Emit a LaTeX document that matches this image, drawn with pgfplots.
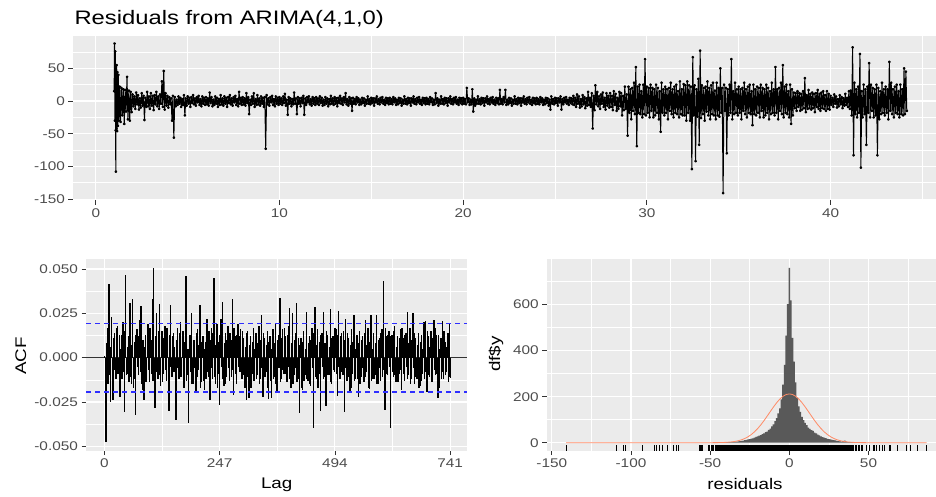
\documentclass[border=0pt]{standalone}
\usepackage{fontspec}
\setmainfont{Liberation Sans}[FakeStretch=1.22]
\usepackage{pgfplots}
\pgfplotsset{compat=1.18}
\definecolor{panel}{HTML}{EBEBEB}
\definecolor{tickgrey}{HTML}{333333}
\definecolor{labgrey}{HTML}{4D4D4D}
\definecolor{histfill}{HTML}{595959}
\definecolor{normline}{HTML}{FF8A65}
\definecolor{ciblue}{HTML}{2E2EFF}
\pgfplotsset{
  ggpanel/.style={
    scale only axis,
    axis background/.style={fill=panel},
    axis line style={draw=none},
    tick pos=left,
    tick align=outside,
    major tick length=4.5pt,
    minor tick length=0pt,
    tick style={tickgrey, line width=0.8pt},
    grid=both,
    major grid style={white, line width=1.1pt},
    minor grid style={white, line width=0.55pt},
    scaled ticks=false,
    tick label style={font=\fontsize{12.6}{14}\selectfont, text=labgrey},
  },
  acfbar/.style={ycomb, black, line width=1.4pt, mark=none},
  ciline/.style={color=ciblue, solid, line width=1.3pt, dash pattern=on 5pt off 4pt, mark=none},
}
\begin{document}
\begin{tikzpicture}
\useasboundingbox (0,0) rectangle (936pt,-497pt);
\node[anchor=base west, font=\fontsize{19.5}{22}\selectfont] at (71pt,-25pt) {Residuals from ARIMA(4,1,0)};

% residual series
\begin{axis}[ggpanel, at={(73pt,-36pt)}, anchor=north west,
  width=863pt, height=164.4pt,
  xmin=-1.24, xmax=45.74, ymin=-152, ymax=99.5,
  xtick={0,10,20,30,40}, xticklabels={0,10,20,30,40},
  minor xtick={5,15,25,35,45},
  ytick={-150,-100,-50,0,50}, yticklabels={-150,-100,-50,0,50},
  minor ytick={-125,-75,-25,25,75}]
\addplot[black, line width=1pt, line join=round, mark=*, mark size=0.9pt] coordinates {
(1.00,15) (1.02,88) (1.04,-30) (1.06,76) (1.08,-45) (1.09,-108) (1.10,48) (1.12,-42) (1.14,55) (1.16,-46) (1.18,44) (1.20,-38) (1.23,40) (1.26,-30) (1.30,22) (1.35,-32) (1.40,20) (1.45,-22) (1.50,18) (1.55,-35) (1.60,17) (1.65,-16) (1.70,37) (1.75,-28) (1.80,16) (1.85,-30) (1.90,14) (1.95,-17)
(2.00,10) (2.05,-8) (2.10,7) (2.15,-12) (2.20,13) (2.25,-5) (2.30,9) (2.35,-13) (2.40,4) (2.45,-10) (2.50,12) (2.55,-7) (2.60,8) (2.65,-29) (2.70,5) (2.75,-9) (2.80,14) (2.85,-8) (2.90,7) (2.95,-12)
(3.00,12) (3.05,-7) (3.10,8) (3.15,-14) (3.20,9) (3.25,-5) (3.30,14) (3.35,-8) (3.40,7) (3.45,-12) (3.50,10) (3.55,-4) (3.60,30) (3.65,-9) (3.70,46) (3.75,-13) (3.80,12) (3.85,-7) (3.90,8) (3.95,-10)
(4.00,6) (4.05,-5) (4.10,4) (4.15,-30) (4.20,8) (4.25,-56) (4.30,6) (4.35,-8) (4.40,2) (4.45,-6) (4.50,7) (4.55,-4) (4.60,5) (4.65,-9) (4.70,3) (4.75,-6) (4.80,9) (4.85,-22) (4.90,4) (4.95,-7)
(5.00,7) (5.05,-4) (5.10,5) (5.15,-9) (5.20,6) (5.25,-3) (5.30,9) (5.35,-5) (5.40,4) (5.45,-7) (5.50,6) (5.55,-2) (5.60,8) (5.65,-6) (5.70,3) (5.75,-8) (5.80,7) (5.85,-4) (5.90,5) (5.95,-6)
(6.00,6) (6.05,-5) (6.10,4) (6.15,-7) (6.20,13) (6.25,-3) (6.30,6) (6.35,-8) (6.40,2) (6.45,-6) (6.50,7) (6.55,-4) (6.60,5) (6.65,-9) (6.70,3) (6.75,-6) (6.80,9) (6.85,-5) (6.90,4) (6.95,-7)
(7.00,7) (7.05,-4) (7.10,5) (7.15,-9) (7.20,6) (7.25,-3) (7.30,9) (7.35,-5) (7.40,4) (7.45,-7) (7.50,6) (7.55,-2) (7.60,8) (7.65,-6) (7.70,3) (7.75,-8) (7.80,14) (7.85,-4) (7.90,5) (7.95,-6)
(8.00,6) (8.05,-5) (8.10,4) (8.15,-7) (8.20,12) (8.25,-3) (8.30,6) (8.35,-20) (8.40,2) (8.45,-6) (8.50,7) (8.55,-4) (8.60,12) (8.65,-9) (8.70,3) (8.75,-6) (8.80,9) (8.85,-5) (8.90,4) (8.95,-7)
(9.00,7) (9.05,-4) (9.10,5) (9.15,-9) (9.20,6) (9.25,-73) (9.30,9) (9.35,-5) (9.40,4) (9.45,-7) (9.50,6) (9.55,-2) (9.60,8) (9.65,-6) (9.70,3) (9.75,-8) (9.80,7) (9.85,-4) (9.90,5) (9.95,-6)
(10.00,6) (10.05,-4) (10.10,4) (10.15,-6) (10.20,7) (10.25,-3) (10.30,11) (10.35,-7) (10.40,2) (10.45,-21) (10.50,6) (10.55,-4) (10.60,4) (10.65,-8) (10.70,3) (10.75,-5) (10.80,13) (10.85,-4) (10.90,4) (10.95,-20)
(11.00,6) (11.05,-4) (11.10,4) (11.15,-8) (11.20,5) (11.25,-3) (11.30,8) (11.35,-21) (11.40,4) (11.45,-6) (11.50,6) (11.55,-2) (11.60,7) (11.65,-5) (11.70,3) (11.75,-7) (11.80,6) (11.85,-4) (11.90,4) (11.95,-6)
(12.00,6) (12.05,-4) (12.10,4) (12.15,-6) (12.20,7) (12.25,-3) (12.30,5) (12.35,-7) (12.40,2) (12.45,-6) (12.50,6) (12.55,-4) (12.60,4) (12.65,-8) (12.70,3) (12.75,-5) (12.80,8) (12.85,-4) (12.90,4) (12.95,-6)
(13.00,6) (13.05,-4) (13.10,4) (13.15,-8) (13.20,5) (13.25,-3) (13.30,8) (13.35,-4) (13.40,4) (13.45,-6) (13.50,6) (13.55,-2) (13.60,12) (13.65,-5) (13.70,3) (13.75,-7) (13.80,6) (13.85,-4) (13.90,4) (13.95,-15)
(14.00,5) (14.05,-4) (14.10,3) (14.15,-5) (14.20,6) (14.25,-2) (14.30,4) (14.35,-6) (14.40,2) (14.45,-5) (14.50,5) (14.55,-3) (14.60,4) (14.65,-7) (14.70,2) (14.75,-4) (14.80,7) (14.85,-4) (14.90,3) (14.95,-5)
(15.00,5) (15.05,-3) (15.10,4) (15.15,-7) (15.20,4) (15.25,-2) (15.30,7) (15.35,-4) (15.40,3) (15.45,-5) (15.50,5) (15.55,-2) (15.60,6) (15.65,-4) (15.70,2) (15.75,-6) (15.80,5) (15.85,-3) (15.90,4) (15.95,-5)
(16.00,5) (16.05,-4) (16.10,3) (16.15,-5) (16.20,6) (16.25,-2) (16.30,4) (16.35,-6) (16.40,2) (16.45,-5) (16.50,5) (16.55,-3) (16.60,4) (16.65,-7) (16.70,2) (16.75,-4) (16.80,7) (16.85,-4) (16.90,3) (16.95,-5)
(17.00,5) (17.05,-3) (17.10,4) (17.15,-7) (17.20,4) (17.25,-2) (17.30,7) (17.35,-4) (17.40,3) (17.45,-5) (17.50,5) (17.55,-2) (17.60,6) (17.65,-4) (17.70,2) (17.75,-6) (17.80,5) (17.85,-3) (17.90,4) (17.95,-5)
(18.00,5) (18.05,-4) (18.10,3) (18.15,-5) (18.20,6) (18.25,-2) (18.30,4) (18.35,-6) (18.40,2) (18.45,-5) (18.50,12) (18.55,-3) (18.60,4) (18.65,-7) (18.70,2) (18.75,-4) (18.80,7) (18.85,-4) (18.90,3) (18.95,-5)
(19.00,5) (19.05,-3) (19.10,4) (19.15,-7) (19.20,4) (19.25,-2) (19.30,7) (19.35,-4) (19.40,3) (19.45,-5) (19.50,5) (19.55,-2) (19.60,6) (19.65,-4) (19.70,2) (19.75,-6) (19.80,5) (19.85,-3) (19.90,4) (19.95,-5)
(20.00,5) (20.05,-4) (20.10,3) (20.15,-5) (20.20,20) (20.25,-2) (20.30,4) (20.35,-6) (20.40,2) (20.45,-5) (20.50,18) (20.55,-16) (20.60,4) (20.65,-7) (20.70,2) (20.75,-4) (20.80,7) (20.85,-4) (20.90,3) (20.95,-5)
(21.00,5) (21.05,-3) (21.10,4) (21.15,-7) (21.20,4) (21.25,-2) (21.30,7) (21.35,-4) (21.40,3) (21.45,-5) (21.50,5) (21.55,-2) (21.60,6) (21.65,-4) (21.70,2) (21.75,-6) (21.80,5) (21.85,-3) (21.90,4) (21.95,-5)
(22.00,17) (22.05,-4) (22.10,3) (22.15,-5) (22.20,6) (22.25,-2) (22.30,17) (22.35,-6) (22.40,2) (22.45,-5) (22.50,5) (22.55,-3) (22.60,4) (22.65,-7) (22.70,2) (22.75,-4) (22.80,7) (22.85,-4) (22.90,3) (22.95,-5)
(23.00,5) (23.05,-3) (23.10,4) (23.15,-7) (23.20,4) (23.25,-2) (23.30,7) (23.35,-4) (23.40,3) (23.45,-5) (23.50,5) (23.55,-2) (23.60,6) (23.65,-4) (23.70,2) (23.75,-6) (23.80,5) (23.85,-3) (23.90,4) (23.95,-5)
(24.00,5) (24.05,-4) (24.10,3) (24.15,-5) (24.20,6) (24.25,-2) (24.30,4) (24.35,-6) (24.40,2) (24.45,-5) (24.50,5) (24.55,-3) (24.60,4) (24.65,-7) (24.70,2) (24.75,-13) (24.80,7) (24.85,-4) (24.90,3) (24.95,-5)
(25.00,5) (25.05,-3) (25.10,4) (25.15,-7) (25.20,4) (25.25,-2) (25.30,7) (25.35,-13) (25.40,3) (25.45,-5) (25.50,5) (25.55,-2) (25.60,6) (25.65,-4) (25.70,2) (25.75,-6) (25.80,5) (25.85,-3) (25.90,4) (25.95,-5)
(26.00,8) (26.05,-6) (26.10,5) (26.15,-9) (26.20,10) (26.25,-4) (26.30,7) (26.35,-10) (26.40,3) (26.45,-8) (26.50,9) (26.55,-5) (26.60,6) (26.65,-11) (26.70,4) (26.75,-7) (26.80,14) (26.85,-6) (26.90,5) (26.95,-9)
(27.00,12) (27.05,-42) (27.10,8) (27.15,-14) (27.20,24) (27.25,-5) (27.30,14) (27.35,-8) (27.40,7) (27.45,-12) (27.50,10) (27.55,-4) (27.60,13) (27.65,-9) (27.70,5) (27.75,-13) (27.80,12) (27.85,-7) (27.90,8) (27.95,-10)
(28.00,12) (28.05,-9) (28.10,8) (28.15,-14) (28.20,15) (28.25,-6) (28.30,11) (28.35,-15) (28.40,5) (28.45,-12) (28.50,14) (28.55,-8) (28.60,12) (28.65,-22) (28.70,8) (28.75,-14) (28.80,22) (28.85,-12) (28.90,10) (28.95,-53)
(29.00,22) (29.05,-18) (29.10,18) (29.15,-28) (29.20,20) (29.25,-15) (29.30,28) (29.35,-20) (29.40,52) (29.45,-69) (29.50,22) (29.55,-18) (29.60,25) (29.65,-20) (29.70,15) (29.75,-25) (29.80,25) (29.85,-20) (29.90,64) (29.95,-22)
(30.00,22) (30.05,-18) (30.10,20) (30.15,-25) (30.20,25) (30.25,-15) (30.30,20) (30.35,-25) (30.40,18) (30.45,-22) (30.50,25) (30.55,-18) (30.60,20) (30.65,-28) (30.70,15) (30.75,-47) (30.80,28) (30.85,-18) (30.90,18) (30.95,-22)
(31.00,22) (31.05,-18) (31.10,18) (31.15,-28) (31.20,20) (31.25,-15) (31.30,28) (31.35,-20) (31.40,18) (31.45,-25) (31.50,22) (31.55,-18) (31.60,25) (31.65,-20) (31.70,15) (31.75,-25) (31.80,30) (31.85,-20) (31.90,18) (31.95,-22)
(32.00,26) (32.05,-22) (32.10,24) (32.15,-30) (32.20,30) (32.25,-18) (32.30,24) (32.35,-30) (32.40,22) (32.45,-104) (32.50,67) (32.55,-22) (32.60,24) (32.65,-92) (32.70,18) (32.75,-24) (32.80,34) (32.85,-67) (32.90,77) (32.95,-26)
(33.00,24) (33.05,-20) (33.10,20) (33.15,-30) (33.20,22) (33.25,-16) (33.30,30) (33.35,-22) (33.40,20) (33.45,-28) (33.50,24) (33.55,-20) (33.60,28) (33.65,-22) (33.70,16) (33.75,-28) (33.80,28) (33.85,-22) (33.90,20) (33.95,-24)
(34.00,50) (34.05,-18) (34.10,20) (34.15,-141) (34.20,25) (34.25,-15) (34.30,20) (34.35,-80) (34.40,18) (34.45,-22) (34.50,25) (34.55,-18) (34.60,64) (34.65,-28) (34.70,15) (34.75,-20) (34.80,28) (34.85,-18) (34.90,18) (34.95,-22)
(35.00,22) (35.05,-18) (35.10,18) (35.15,-28) (35.20,20) (35.25,-15) (35.30,28) (35.35,-20) (35.40,18) (35.45,-25) (35.50,22) (35.55,-18) (35.60,25) (35.65,-20) (35.70,15) (35.75,-37) (35.80,25) (35.85,-20) (35.90,18) (35.95,-22)
(36.00,22) (36.05,-18) (36.10,20) (36.15,-25) (36.20,25) (36.25,-15) (36.30,20) (36.35,-25) (36.40,18) (36.45,-22) (36.50,25) (36.55,-18) (36.60,20) (36.65,-28) (36.70,15) (36.75,-20) (36.80,28) (36.85,-18) (36.90,18) (36.95,-22)
(37.00,52) (37.05,-18) (37.10,18) (37.15,-28) (37.20,20) (37.25,-15) (37.30,28) (37.35,-20) (37.40,55) (37.45,-25) (37.50,22) (37.55,-18) (37.60,25) (37.65,-20) (37.70,15) (37.75,-25) (37.80,25) (37.85,-35) (37.90,18) (37.95,-22)
(38.00,13) (38.05,-11) (38.10,12) (38.15,-15) (38.20,15) (38.25,-9) (38.30,12) (38.35,-15) (38.40,11) (38.45,-13) (38.50,15) (38.55,-11) (38.60,35) (38.65,-17) (38.70,9) (38.75,-12) (38.80,17) (38.85,-11) (38.90,11) (38.95,-13)
(39.00,13) (39.05,-11) (39.10,11) (39.15,-17) (39.20,12) (39.25,-9) (39.30,17) (39.35,-12) (39.40,11) (39.45,-15) (39.50,13) (39.55,-11) (39.60,15) (39.65,-12) (39.70,9) (39.75,-15) (39.80,15) (39.85,-12) (39.90,11) (39.95,-13)
(40.00,8) (40.05,-6) (40.10,5) (40.15,-9) (40.20,10) (40.25,-4) (40.30,7) (40.35,-10) (40.40,3) (40.45,-8) (40.50,9) (40.55,-5) (40.60,6) (40.65,-11) (40.70,4) (40.75,-7) (40.80,11) (40.85,-6) (40.90,5) (40.95,-9)
(41.00,15) (41.05,-12) (41.10,16) (41.15,-22) (41.20,82) (41.25,-83) (41.30,28) (41.35,-20) (41.40,18) (41.45,-25) (41.50,22) (41.55,-18) (41.60,72) (41.65,-102) (41.70,15) (41.75,-25) (41.80,25) (41.85,-20) (41.90,18) (41.95,-67)
(42.00,22) (42.05,-18) (42.10,58) (42.15,-25) (42.20,25) (42.25,-15) (42.30,20) (42.35,-25) (42.40,18) (42.45,-22) (42.50,25) (42.55,-83) (42.60,20) (42.65,-28) (42.70,15) (42.75,-20) (42.80,28) (42.85,-18) (42.90,18) (42.95,-22)
(43.00,22) (43.05,-18) (43.10,18) (43.15,-28) (43.20,60) (43.25,-15) (43.30,28) (43.35,-20) (43.40,18) (43.45,-25) (43.50,22) (43.55,-18) (43.60,25) (43.65,-20) (43.70,15) (43.75,-25) (43.80,25) (43.85,-20) (43.90,18) (43.95,-22)
(44.00,50) (44.05,-20) (44.10,45) (44.15,-15)
};
\end{axis}

% ACF
\begin{axis}[ggpanel, at={(86pt,-259.3pt)}, anchor=north west,
  width=381.3pt, height=191.4pt,
  xmin=-39.2, xmax=777.6, ymin=-0.0525, ymax=0.0555,
  xtick={0,247,494,741}, xticklabels={0,247,494,741},
  minor xtick={123.5,370.5,617.5},
  ytick={-0.05,-0.025,0,0.025,0.05}, yticklabels={-0.050,-0.025,0.000,0.025,0.050},
  minor ytick={-0.0375,-0.0125,0.0125,0.0375},
  extra y ticks={-0.0194,0.0194}, extra y tick labels={},
  extra y tick style={grid=major, major tick length=0pt,
    major grid style={ciblue, line width=1.3pt, dash pattern=on 5pt off 4pt}}]
\addplot[tickgrey, line width=0.8pt] coordinates {(-39.2,0) (777.6,0)};
\addplot[acfbar] coordinates {
(1,0.001) (4,-0.0474) (7,0.017) (10,0.0414) (13,-0.025) (16,0.023) (19,-0.024) (22,0.014) (25,-0.012) (28,0.018)
(31,-0.008) (34,-0.022) (37,0.013) (40,0.020) (43,-0.0305) (46,0.0467) (49,-0.009) (52,0.012) (55,0.0307) (58,-0.015)
(61,0.0333) (64,-0.012) (67,-0.0323) (70,0.016) (73,-0.010) (76,0.021) (79,0.029) (82,-0.018) (85,-0.024) (88,0.013)
(91,-0.008) (94,0.019) (97,-0.014) (100,0.010) (103,0.033) (106,0.0504) (109,-0.0286) (112,0.025) (115,-0.012) (118,0.030)
(121,-0.016) (124,0.015) (127,-0.009) (130,0.018) (133,-0.013) (136,0.011) (139,-0.0303) (142,0.0297) (145,-0.011) (148,0.014)
(151,0.006) (154,-0.0352) (157,0.017) (160,-0.012) (163,0.020) (166,-0.008) (169,0.015) (172,-0.017) (175,0.0463) (178,-0.010)
(181,-0.037) (184,0.013) (187,0.025) (190,-0.015) (193,0.010) (196,-0.019) (199,0.016) (202,-0.007) (205,0.0297) (208,-0.014)
(211,0.012) (214,-0.018) (217,0.009) (220,0.022) (223,-0.011) (226,-0.024) (229,0.017) (232,-0.012) (235,0.0452) (238,-0.015)
(241,0.019) (244,-0.009) (247,-0.0267) (250,0.022) (253,0.0316) (256,-0.016) (259,0.014) (262,-0.011) (265,0.018) (268,-0.013)
(271,0.010) (274,0.033) (277,-0.021) (280,0.012) (283,-0.015) (286,0.019) (289,-0.008) (292,0.016) (295,-0.012) (298,0.011)
(301,-0.017) (304,-0.024) (307,0.015) (310,-0.023) (313,0.012) (316,-0.009) (319,0.017) (322,-0.013) (325,0.014) (328,-0.010)
(331,0.018) (334,-0.012) (337,0.024) (340,-0.022) (343,0.011) (346,-0.008) (349,0.015) (352,-0.0235) (355,0.012) (358,-0.023)
(361,0.016) (364,-0.011) (367,0.019) (370,-0.0195) (373,0.013) (376,0.0335) (379,-0.012) (382,0.016) (385,-0.009) (388,0.012)
(391,-0.014) (394,0.018) (397,0.028) (400,-0.017) (403,0.025) (406,-0.010) (409,0.014) (412,0.031) (415,-0.012) (418,-0.0314)
(421,0.011) (424,-0.018) (427,0.015) (430,-0.010) (433,0.026) (436,-0.013) (439,0.012) (442,-0.016) (445,0.017) (448,-0.0395)
(451,0.0285) (454,-0.012) (457,0.016) (460,-0.009) (463,-0.030) (466,0.014) (469,0.026) (472,-0.011) (475,-0.0275) (478,0.013)
(481,-0.010) (484,0.0273) (487,-0.015) (490,0.012) (493,-0.008) (496,0.016) (499,-0.0214) (502,0.0262) (505,-0.012) (508,0.014)
(511,-0.010) (514,-0.0305) (517,0.022) (520,-0.013) (523,0.011) (526,-0.0195) (529,0.016) (532,-0.009) (535,0.024) (538,-0.012)
(541,0.013) (544,-0.022) (547,0.015) (550,-0.011) (553,0.012) (556,-0.014) (559,0.021) (562,-0.008) (565,0.017) (568,-0.0175)
(571,0.024) (574,-0.012) (577,0.014) (580,-0.010) (583,0.024) (586,-0.015) (589,0.011) (592,-0.013) (595,0.016) (598,0.0433)
(601,-0.0295) (604,0.012) (607,-0.010) (610,0.015) (613,-0.0399) (616,0.013) (619,-0.011) (622,0.018) (625,-0.014) (628,0.012)
(631,-0.009) (634,0.016) (637,-0.018) (640,0.011) (643,-0.013) (646,0.014) (649,0.0256) (652,-0.010) (655,0.017) (658,-0.012)
(661,0.025) (664,-0.015) (667,0.011) (670,-0.012) (673,0.014) (676,-0.016) (679,0.013) (682,-0.009) (685,0.020) (688,0.0206)
(691,-0.0195) (694,0.012) (697,-0.011) (700,0.015) (703,-0.014) (706,0.021) (709,-0.010) (712,0.013) (715,-0.0229) (718,-0.017)
(721,0.011) (724,0.0206) (727,-0.012) (730,0.009) (733,-0.008) (736,0.014) (739,0.0188) (741,-0.0116)
};
\addplot[acfbar] coordinates {
(2,-0.012) (5,0.008) (8,-0.015) (11,-0.010) (14,0.006) (17,-0.014) (20,0.011) (23,-0.007) (26,0.017) (29,-0.009)
(32,0.013) (35,0.005) (38,-0.012) (41,-0.008) (44,0.015) (47,-0.010) (50,0.006) (53,-0.014) (56,-0.011) (59,0.007)
(62,-0.017) (65,0.009) (68,0.013) (71,-0.005) (74,0.012) (77,-0.008) (80,-0.015) (83,0.010) (86,0.006) (89,-0.014)
(92,0.011) (95,-0.007) (98,0.017) (101,-0.009) (104,-0.013) (107,-0.005) (110,0.012) (113,-0.008) (116,0.015) (119,-0.010)
(122,0.006) (125,-0.014) (128,0.011) (131,-0.007) (134,0.017) (137,-0.009) (140,0.013) (143,-0.005) (146,0.012) (149,-0.008)
(152,-0.015) (155,0.010) (158,-0.006) (161,0.014) (164,-0.011) (167,0.007) (170,-0.017) (173,0.009) (176,-0.013) (179,0.005)
(182,0.012) (185,-0.008) (188,-0.015) (191,0.010) (194,-0.006) (197,0.014) (200,-0.011) (203,0.007) (206,-0.017) (209,0.009)
(212,-0.013) (215,0.005) (218,-0.012) (221,-0.008) (224,0.015) (227,0.010) (230,-0.006) (233,0.014) (236,-0.011) (239,0.007)
(242,-0.017) (245,0.009) (248,0.013) (251,-0.005) (254,-0.012) (257,0.008) (260,-0.015) (263,0.010) (266,-0.006) (269,0.014)
(272,-0.011) (275,-0.007) (278,0.017) (281,-0.009) (284,0.013) (287,-0.005) (290,0.012) (293,-0.008) (296,0.015) (299,-0.010)
(302,0.006) (305,0.014) (308,-0.011) (311,0.007) (314,-0.017) (317,0.009) (320,-0.013) (323,0.005) (326,-0.012) (329,0.008)
(332,-0.015) (335,0.010) (338,-0.006) (341,0.014) (344,-0.011) (347,0.007) (350,-0.017) (353,0.009) (356,-0.013) (359,0.005)
(362,-0.012) (365,0.008) (368,-0.015) (371,0.010) (374,-0.006) (377,-0.014) (380,0.011) (383,-0.007) (386,0.017) (389,-0.009)
(392,0.013) (395,-0.005) (398,-0.012) (401,0.008) (404,-0.015) (407,0.010) (410,-0.006) (413,-0.014) (416,0.011) (419,0.007)
(422,-0.017) (425,0.009) (428,-0.013) (431,0.005) (434,-0.012) (437,0.008) (440,-0.015) (443,0.010) (446,-0.006) (449,0.014)
(452,-0.011) (455,0.007) (458,-0.017) (461,0.009) (464,0.013) (467,-0.005) (470,-0.012) (473,0.008) (476,0.015) (479,-0.010)
(482,0.006) (485,-0.014) (488,0.011) (491,-0.007) (494,0.017) (497,-0.009) (500,0.013) (503,-0.005) (506,0.012) (509,-0.008)
(512,0.015) (515,0.010) (518,-0.006) (521,0.014) (524,-0.011) (527,0.007) (530,-0.017) (533,0.009) (536,-0.013) (539,0.005)
(542,-0.012) (545,0.008) (548,-0.015) (551,0.010) (554,-0.006) (557,0.014) (560,-0.011) (563,0.007) (566,-0.017) (569,0.009)
(572,-0.013) (575,0.005) (578,-0.012) (581,0.008) (584,-0.015) (587,0.010) (590,-0.006) (593,0.014) (596,-0.011) (599,-0.007)
(602,0.017) (605,-0.009) (608,0.013) (611,-0.005) (614,0.012) (617,-0.008) (620,0.015) (623,-0.010) (626,0.006) (629,-0.014)
(632,0.011) (635,-0.007) (638,0.017) (641,-0.009) (644,0.013) (647,-0.005) (650,-0.012) (653,0.008) (656,-0.015) (659,0.010)
(662,-0.006) (665,0.014) (668,-0.011) (671,0.007) (674,-0.017) (677,0.009) (680,-0.013) (683,0.005) (686,-0.012) (689,-0.008)
(692,0.015) (695,-0.010) (698,0.006) (701,-0.014) (704,0.011) (707,-0.007) (710,0.017) (713,-0.009) (716,0.013) (719,0.005)
(722,-0.012) (725,-0.008) (728,0.015) (731,-0.010) (734,0.006) (737,-0.014) (740,-0.011)
};
\addplot[ciline] coordinates {(-39.2,0.0194) (777.6,0.0194)};
\addplot[ciline] coordinates {(-39.2,-0.0194) (777.6,-0.0194)};
\end{axis}

% histogram
\begin{axis}[ggpanel, at={(546.7pt,-259.3pt)}, anchor=north west,
  width=389.3pt, height=191.4pt,
  xmin=-153.2, xmax=92.6, ymin=-34.8, ymax=797,
  xtick={-150,-100,-50,0,50}, xticklabels={-150,-100,-50,0,50},
  minor xtick={-125,-75,-25,25,75},
  ytick={0,200,400,600}, yticklabels={0,200,400,600},
  minor ytick={100,300,500,700}]
\addplot[ybar interval, fill=histfill, draw=none] coordinates {
(-45.5,1) (-44.5,2) (-43.5,1) (-42.5,2) (-41.5,2) (-40.5,3) (-39.5,2) (-38.5,3) (-37.5,3) (-36.5,4)
(-35.5,4) (-34.5,5) (-33.5,5) (-32.5,6) (-31.5,7) (-30.5,8) (-29.5,9) (-28.5,11) (-27.5,12) (-26.5,14)
(-25.5,15) (-24.5,18) (-23.5,19) (-22.5,22) (-21.5,25) (-20.5,27) (-19.5,31) (-18.5,33) (-17.5,37) (-16.5,40)
(-15.5,46) (-14.5,48) (-13.5,56) (-12.5,61) (-11.5,71) (-10.5,80) (-9.5,94) (-8.5,107) (-7.5,127) (-6.5,149)
(-5.5,188) (-4.5,252) (-3.5,338) (-2.5,465) (-1.5,602) (-0.5,760) (0.5,618) (1.5,455) (2.5,352) (3.5,262)
(4.5,196) (5.5,158) (6.5,134) (7.5,112) (8.5,98) (9.5,86) (10.5,76) (11.5,66) (12.5,60) (13.5,55)
(14.5,51) (15.5,44) (16.5,40) (17.5,35) (18.5,32) (19.5,28) (20.5,24) (21.5,22) (22.5,20) (23.5,17)
(24.5,16) (25.5,14) (26.5,12) (27.5,11) (28.5,10) (29.5,8) (30.5,7) (31.5,6) (32.5,5) (33.5,7)
(34.5,9) (35.5,5) (36.5,3) (37.5,2) (38.5,2) (39.5,3) (40.5,1) (41.5,2) (42.5,1) (43.5,1) (44.5,1) (45.5,1)
};
\addplot[normline, line width=0.8pt] coordinates {
(-141,0) (-70,0) (-55,0) (-50,0.1) (-45,0.4) (-40,1.5) (-36,3.8) (-33,7.3) (-30,13.0) (-28,18.7)
(-26,26.1) (-24,35.6) (-22,47.3) (-20,61.4) (-18,77.7) (-16,95.9) (-14,115.5) (-12,135.7) (-10,155.5) (-8,173.8)
(-6,189.6) (-4,201.7) (-2,209.4) (0,212) (2,209.4) (4,201.7) (6,189.6) (8,173.8) (10,155.5) (12,135.7)
(14,115.5) (16,95.9) (18,77.7) (20,61.4) (22,47.3) (24,35.6) (26,26.1) (28,18.7) (30,13.0) (33,7.3)
(36,3.8) (40,1.5) (45,0.4) (50,0.1) (55,0) (70,0) (86.7,0)
};
% rug of residual values
\addplot[black, line width=5.4pt] coordinates {(-46,-23) (41,-23)};
\addplot[black, only marks, mark=|, mark size=2.7pt, mark options={line width=0.8pt}] coordinates {
(-141,-23) (-109,-23) (-105,-23) (-103.7,-23) (-92.7,-23) (-85,-23) (-83.7,-23) (-82,-23) (-80.3,-23) (-76.7,-23)
(-73,-23) (-71.5,-23) (-70,-23) (-57,-23) (-56.3,-23) (-55.5,-23) (-54.6,-23) (-51,-23) (-50.3,-23) (-49.5,-23)
(-48.8,-23) (-48,-23) (-47,-23) (41.5,-23) (42.5,-23) (43.5,-23) (44.5,-23) (45.2,-23) (46,-23) (48.8,-23)
(50.7,-23) (53,-23) (54,-23) (55,-23) (57,-23) (58.5,-23) (59.7,-23) (63,-23) (64,-23) (68,-23)
(73.6,-23) (76.6,-23) (80.6,-23) (86.7,-23)
};
\end{axis}

\node[rotate=90, anchor=base, font=\fontsize{15.4}{18}\selectfont] at (26pt,-356pt) {ACF};
\node[anchor=base, font=\fontsize{15.4}{18}\selectfont] at (276.7pt,-488pt) {Lag};
\node[anchor=base, font=\fontsize{15.4}{18}\selectfont] at (745pt,-489pt) {residuals};
\node[rotate=90, anchor=base, font=\fontsize{15.4}{18}\selectfont] at (500pt,-354pt) {df\$y};
\end{tikzpicture}
\end{document}
